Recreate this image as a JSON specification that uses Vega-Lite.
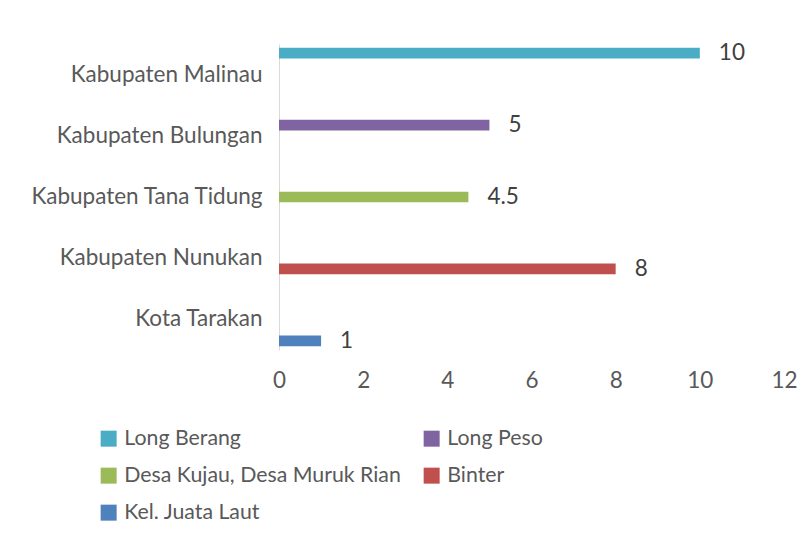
{
  "$schema": "https://vega.github.io/schema/vega-lite/v6.json",
  "width": 505,
  "height": 306,
  "autosize": "none",
  "padding": {"left": 279, "top": 44, "right": 16, "bottom": 191},
  "background": "white",
  "config": {
    "view": {"stroke": null},
    "font": "Lato",
    "axis": {"labelFont": "Lato", "labelFontSize": 22.5, "labelColor": "#595959", "title": null, "grid": false, "ticks": false},
    "legend": {"labelFont": "Lato"}
  },
  "data": {
    "values": [
      {"region": "Kabupaten Malinau", "series": "Long Berang", "value": 10},
      {"region": "Kabupaten Bulungan", "series": "Long Peso", "value": 5},
      {"region": "Kabupaten Tana Tidung", "series": "Desa Kujau, Desa Muruk Rian", "value": 4.5},
      {"region": "Kabupaten Nunukan", "series": "Binter", "value": 8},
      {"region": "Kota Tarakan", "series": "Kel. Juata Laut", "value": 1}
    ]
  },
  "encoding": {
    "y": {
      "field": "region",
      "type": "nominal",
      "sort": ["Kabupaten Malinau", "Kabupaten Bulungan", "Kabupaten Tana Tidung", "Kabupaten Nunukan", "Kota Tarakan"],
      "scale": {"paddingInner": 0.125, "paddingOuter": 0.0625},
      "axis": {"labelPadding": 17, "domain": true, "domainColor": "#D9D9D9", "domainWidth": 1, "labelLimit": 0}
    },
    "yOffset": {
      "field": "series",
      "type": "nominal",
      "scale": {"domain": ["Long Berang", "Long Peso", "Desa Kujau, Desa Muruk Rian", "Binter", "Kel. Juata Laut"], "paddingInner": 0, "paddingOuter": 0}
    },
    "x": {
      "field": "value",
      "type": "quantitative",
      "scale": {"domain": [0, 12], "nice": false},
      "axis": {"values": [0, 2, 4, 6, 8, 10, 12], "domain": false, "labelPadding": 19, "labelFlush": false}
    }
  },
  "layer": [
    {
      "mark": {"type": "bar"},
      "encoding": {
        "color": {
          "field": "series",
          "type": "nominal",
          "scale": {
            "domain": ["Long Berang", "Long Peso", "Desa Kujau, Desa Muruk Rian", "Binter", "Kel. Juata Laut"],
            "range": ["#4BACC6", "#8064A2", "#9BBB59", "#C0504D", "#4F81BD"]
          },
          "legend": {
            "title": null,
            "orient": "none",
            "direction": "horizontal",
            "legendX": -181,
            "legendY": 384,
            "columns": 2,
            "symbolType": "square",
            "symbolSize": 256,
            "symbolStrokeWidth": 0,
            "labelFontSize": 21.3,
            "labelColor": "#595959",
            "labelOffset": 5,
            "columnPadding": 20,
            "rowPadding": 15,
            "labelLimit": 0
          }
        }
      }
    },
    {
      "mark": {"type": "text", "align": "left", "baseline": "middle", "dx": 19, "fontSize": 22.5, "color": "#404040"},
      "encoding": {"text": {"field": "value", "type": "quantitative"}}
    }
  ]
}
